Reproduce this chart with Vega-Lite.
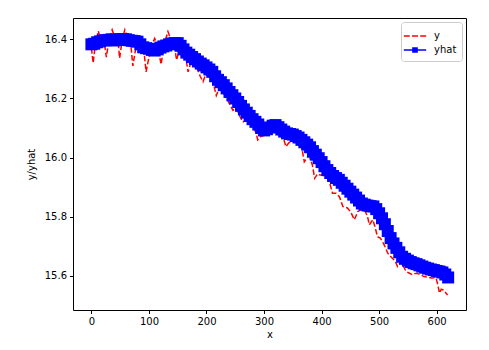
{
  "$schema": "https://vega.github.io/schema/vega-lite/v6.json",
  "width": 393,
  "height": 292,
  "autosize": "none",
  "padding": {"left": 73, "top": 18, "right": 23, "bottom": 40},
  "config": {
    "font": "DejaVu Sans",
    "view": {"stroke": "black", "strokeWidth": 1},
    "axis": {"grid": false, "domain": false, "tickColor": "black", "tickSize": 3.5, "labelColor": "black", "labelFontSize": 10, "titleFontSize": 10, "titleFontWeight": "normal", "titleColor": "black", "labelPadding": 3},
    "legend": {"orient": "top-right", "offset": 4, "fillColor": "white", "strokeColor": "#cccccc", "cornerRadius": 3, "padding": 5, "labelFontSize": 10, "labelColor": "black", "symbolSize": 256, "labelOffset": 10, "rowPadding": 0, "symbolStrokeWidth": 1.5, "symbolOpacity": 1}
  },
  "datasets": {
    "yhat": [
      {"x":0,"v":16.383},{"x":5,"v":16.385},{"x":10,"v":16.390},{"x":15,"v":16.393},{"x":20,"v":16.396},{"x":25,"v":16.397},{"x":30,"v":16.398},{"x":35,"v":16.400},{"x":40,"v":16.396},{"x":45,"v":16.398},{"x":50,"v":16.400},{"x":55,"v":16.401},{"x":60,"v":16.400},{"x":65,"v":16.397},{"x":70,"v":16.395},{"x":75,"v":16.394},{"x":80,"v":16.392},{"x":85,"v":16.383},{"x":90,"v":16.373},{"x":95,"v":16.370},{"x":100,"v":16.368},{"x":105,"v":16.364},{"x":110,"v":16.362},{"x":115,"v":16.366},{"x":120,"v":16.372},{"x":125,"v":16.376},{"x":130,"v":16.379},{"x":135,"v":16.383},{"x":140,"v":16.386},{"x":145,"v":16.387},{"x":150,"v":16.387},{"x":155,"v":16.378},{"x":160,"v":16.366},{"x":165,"v":16.355},{"x":170,"v":16.348},{"x":175,"v":16.340},{"x":180,"v":16.333},{"x":185,"v":16.325},{"x":190,"v":16.318},{"x":195,"v":16.312},{"x":200,"v":16.305},{"x":205,"v":16.298},{"x":210,"v":16.290},{"x":215,"v":16.275},{"x":220,"v":16.263},{"x":225,"v":16.255},{"x":230,"v":16.245},{"x":235,"v":16.234},{"x":240,"v":16.222},{"x":245,"v":16.211},{"x":250,"v":16.200},{"x":255,"v":16.188},{"x":260,"v":16.175},{"x":265,"v":16.163},{"x":270,"v":16.152},{"x":275,"v":16.141},{"x":280,"v":16.130},{"x":285,"v":16.121},{"x":290,"v":16.112},{"x":295,"v":16.100},{"x":300,"v":16.092},{"x":305,"v":16.096},{"x":310,"v":16.102},{"x":315,"v":16.108},{"x":320,"v":16.110},{"x":325,"v":16.103},{"x":330,"v":16.095},{"x":335,"v":16.088},{"x":340,"v":16.082},{"x":345,"v":16.080},{"x":350,"v":16.078},{"x":355,"v":16.073},{"x":360,"v":16.068},{"x":365,"v":16.060},{"x":370,"v":16.052},{"x":375,"v":16.044},{"x":380,"v":16.035},{"x":385,"v":16.022},{"x":390,"v":16.010},{"x":395,"v":15.998},{"x":400,"v":15.985},{"x":405,"v":15.971},{"x":410,"v":15.958},{"x":415,"v":15.948},{"x":420,"v":15.938},{"x":425,"v":15.931},{"x":430,"v":15.925},{"x":435,"v":15.915},{"x":440,"v":15.905},{"x":445,"v":15.895},{"x":450,"v":15.885},{"x":455,"v":15.875},{"x":460,"v":15.865},{"x":465,"v":15.855},{"x":470,"v":15.845},{"x":475,"v":15.841},{"x":480,"v":15.838},{"x":485,"v":15.836},{"x":490,"v":15.835},{"x":495,"v":15.826},{"x":500,"v":15.812},{"x":505,"v":15.795},{"x":510,"v":15.775},{"x":515,"v":15.752},{"x":520,"v":15.728},{"x":525,"v":15.710},{"x":530,"v":15.695},{"x":535,"v":15.680},{"x":540,"v":15.665},{"x":545,"v":15.658},{"x":550,"v":15.652},{"x":555,"v":15.647},{"x":560,"v":15.643},{"x":565,"v":15.640},{"x":570,"v":15.636},{"x":575,"v":15.632},{"x":580,"v":15.628},{"x":585,"v":15.625},{"x":590,"v":15.622},{"x":595,"v":15.620},{"x":600,"v":15.617},{"x":605,"v":15.615},{"x":610,"v":15.612},{"x":615,"v":15.605},{"x":620,"v":15.595}
    ],
    "y": [
      {"x":0,"v":16.370},{"x":3,"v":16.320},{"x":7,"v":16.385},{"x":12,"v":16.428},{"x":16,"v":16.400},{"x":22,"v":16.392},{"x":26,"v":16.340},{"x":31,"v":16.405},{"x":36,"v":16.432},{"x":41,"v":16.405},{"x":46,"v":16.398},{"x":49,"v":16.336},{"x":54,"v":16.405},{"x":58,"v":16.432},{"x":63,"v":16.405},{"x":68,"v":16.392},{"x":72,"v":16.310},{"x":78,"v":16.380},{"x":84,"v":16.397},{"x":90,"v":16.385},{"x":95,"v":16.290},{"x":101,"v":16.350},{"x":106,"v":16.385},{"x":110,"v":16.403},{"x":116,"v":16.372},{"x":121,"v":16.315},{"x":127,"v":16.388},{"x":133,"v":16.426},{"x":138,"v":16.400},{"x":144,"v":16.382},{"x":148,"v":16.330},{"x":153,"v":16.365},{"x":158,"v":16.380},{"x":163,"v":16.352},{"x":168,"v":16.290},{"x":173,"v":16.322},{"x":179,"v":16.328},{"x":184,"v":16.300},{"x":189,"v":16.275},{"x":194,"v":16.257},{"x":199,"v":16.283},{"x":205,"v":16.272},{"x":211,"v":16.258},{"x":217,"v":16.210},{"x":222,"v":16.235},{"x":228,"v":16.222},{"x":235,"v":16.200},{"x":240,"v":16.182},{"x":246,"v":16.160},{"x":252,"v":16.168},{"x":258,"v":16.140},{"x":263,"v":16.120},{"x":270,"v":16.128},{"x":276,"v":16.112},{"x":281,"v":16.102},{"x":286,"v":16.085},{"x":289,"v":16.060},{"x":295,"v":16.072},{"x":300,"v":16.075},{"x":305,"v":16.082},{"x":310,"v":16.090},{"x":316,"v":16.092},{"x":324,"v":16.093},{"x":329,"v":16.080},{"x":333,"v":16.071},{"x":338,"v":16.037},{"x":343,"v":16.050},{"x":347,"v":16.054},{"x":354,"v":16.052},{"x":362,"v":16.049},{"x":366,"v":16.030},{"x":370,"v":15.986},{"x":375,"v":16.000},{"x":379,"v":16.003},{"x":384,"v":15.975},{"x":388,"v":15.930},{"x":393,"v":15.945},{"x":396,"v":15.942},{"x":403,"v":15.940},{"x":410,"v":15.930},{"x":414,"v":15.915},{"x":419,"v":15.880},{"x":425,"v":15.880},{"x":431,"v":15.868},{"x":437,"v":15.835},{"x":445,"v":15.830},{"x":451,"v":15.815},{"x":457,"v":15.790},{"x":463,"v":15.818},{"x":469,"v":15.825},{"x":475,"v":15.823},{"x":480,"v":15.800},{"x":483,"v":15.773},{"x":489,"v":15.790},{"x":493,"v":15.765},{"x":497,"v":15.733},{"x":502,"v":15.728},{"x":506,"v":15.716},{"x":510,"v":15.700},{"x":515,"v":15.677},{"x":519,"v":15.668},{"x":523,"v":15.660},{"x":528,"v":15.650},{"x":532,"v":15.632},{"x":538,"v":15.649},{"x":543,"v":15.630},{"x":547,"v":15.615},{"x":552,"v":15.610},{"x":558,"v":15.604},{"x":562,"v":15.608},{"x":566,"v":15.609},{"x":572,"v":15.604},{"x":578,"v":15.598},{"x":584,"v":15.596},{"x":591,"v":15.593},{"x":596,"v":15.594},{"x":599,"v":15.593},{"x":602,"v":15.570},{"x":605,"v":15.542},{"x":608,"v":15.555},{"x":611,"v":15.553},{"x":615,"v":15.545},{"x":619,"v":15.536}
    ],
    "legendrows": [{"series": "y"}, {"series": "yhat"}]
  },
  "encoding": {
    "x": {"field": "x", "type": "quantitative", "title": "x", "scale": {"domain": [-32, 651], "nice": false, "zero": false}, "axis": {"values": [0, 100, 200, 300, 400, 500, 600], "titlePadding": 3}},
    "y": {"field": "v", "type": "quantitative", "title": "y/yhat", "scale": {"domain": [15.485, 16.472], "nice": false, "zero": false}, "axis": {"values": [15.6, 15.8, 16.0, 16.2, 16.4], "format": ".1f", "titlePadding": 8}}
  },
  "layer": [
    {
      "data": {"name": "y"},
      "mark": {"type": "line", "color": "#ff0000", "strokeWidth": 1.5, "strokeDash": [5.5, 2.4], "clip": true}
    },
    {
      "data": {"name": "yhat"},
      "mark": {"type": "line", "color": "#0000ff", "strokeWidth": 1.5, "clip": true}
    },
    {
      "data": {"name": "yhat"},
      "mark": {"type": "point", "shape": "square", "filled": true, "opacity": 1, "size": 144, "color": "#0000ff", "clip": true}
    },
    {
      "data": {"name": "legendrows"},
      "mark": {"type": "point", "filled": true, "size": 0},
      "encoding": {
        "x": {"datum": 0, "type": "quantitative"},
        "y": {"datum": 16.0, "type": "quantitative"},
        "color": {"field": "series", "type": "nominal", "scale": {"domain": ["y", "yhat"], "range": ["#ff0000", "#0000ff"]}, "legend": {"title": null, "orient": "top-right", "encode": {"symbols": {"update": {"stroke": {"scale": "color", "field": "value"}, "fill": {"scale": "color", "field": "value"}, "strokeWidth": {"value": 1.5}}}}}},
        "shape": {"field": "series", "type": "nominal", "scale": {"domain": ["y", "yhat"], "range": ["M-1.4,0H-0.65M-0.38,0H0.38M0.65,0H1.4", "M-1.4,0H1.4M-0.26,-0.26H0.26V0.26H-0.26Z"]}, "legend": {"title": null, "orient": "top-right"}}
      }
    }
  ]
}
